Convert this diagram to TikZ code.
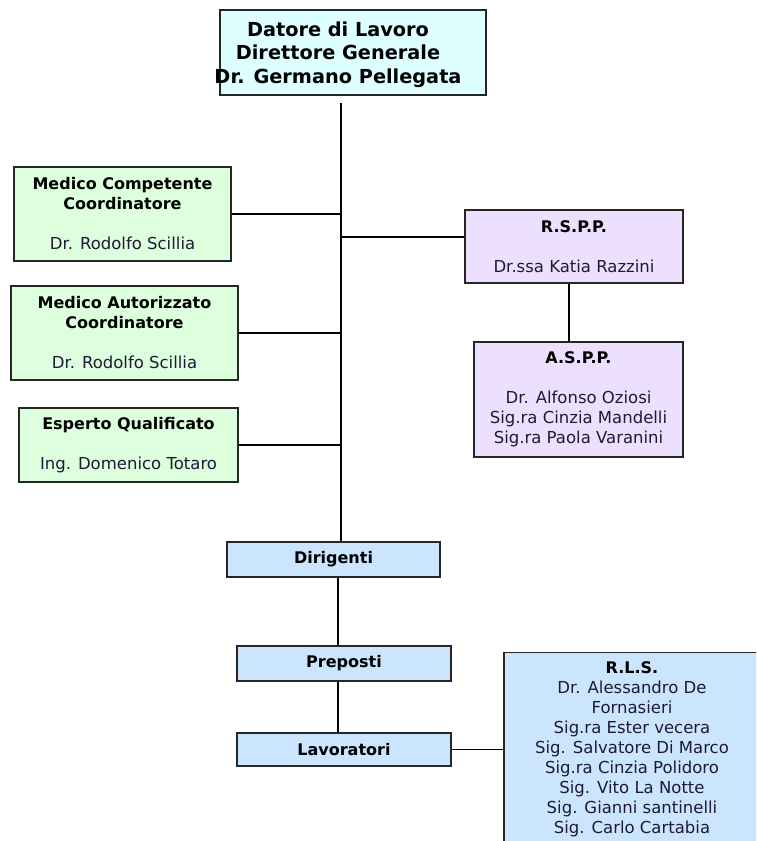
\documentclass[tikz,border=0pt]{standalone}
\usepackage{fontspec}
\setmainfont{DejaVu Sans}
\definecolor{cyanfill}{HTML}{DDFFFF}
\definecolor{greenfill}{HTML}{DDFFDD}
\definecolor{lilacfill}{HTML}{EDE0FF}
\definecolor{bluefill}{HTML}{CCE5FF}
\definecolor{boxline}{HTML}{262626}
\definecolor{txt}{HTML}{1E1A36}
\newcommand\hd[1]{{\bfseries\color{black}\fontsize{16}{20}\selectfont#1}}
\begin{document}
\begin{tikzpicture}[x=1pt,y=-1pt,
  box/.style={draw=boxline, line width=1.4pt, inner sep=0pt, align=center,
    text=txt, font=\fontsize{16.5}{20}\selectfont},
  conn/.style={draw=black, line width=1.3pt}]
\useasboundingbox (0,0) rectangle (756,841);
\clip (0,0) rectangle (756,841);
\fill[white] (0,0) rectangle (756,841);

\node[box, fill=cyanfill, minimum width=266pt, minimum height=85pt] (top) at (353,52.5) {};
\node[align=center, inner sep=0pt, font=\fontsize{19.3}{23.5}\selectfont\bfseries] (toptxt) at (338,54.5)
  {Datore di Lavoro\\Direttore Generale\\Dr. Germano Pellegata};

\node[box, fill=greenfill, minimum width=217pt, minimum height=94pt] (g1) at (122.5,214)
  {\hd{Medico Competente}\\\hd{Coordinatore}\\[20pt]Dr. Rodolfo Scillia};
\node[box, fill=greenfill, minimum width=227pt, minimum height=94pt] (g2) at (124.5,333)
  {\hd{Medico Autorizzato}\\\hd{Coordinatore}\\[20pt]Dr. Rodolfo Scillia};
\node[box, fill=greenfill, minimum width=219pt, minimum height=74pt] (g3) at (128.5,445)
  {\hd{Esperto Qualificato}\\[20pt]Ing. Domenico Totaro};

\node[box, fill=lilacfill, minimum width=218pt, minimum height=73pt] (rspp) at (574,246.5)
  {\hd{R.S.P.P.}\\[20pt]Dr.ssa Katia Razzini};
\node[box, fill=lilacfill, minimum width=209pt, minimum height=115pt] (aspp) at (578.5,399.5)
  {\hd{A.S.P.P.}\\[20pt]Dr. Alfonso Oziosi\\Sig.ra Cinzia Mandelli\\Sig.ra Paola Varanini};

\node[box, fill=bluefill, minimum width=213pt, minimum height=35pt] (dir) at (333.5,559.5)
  {\hd{Dirigenti}};
\node[box, fill=bluefill, minimum width=214pt, minimum height=35pt] (prep) at (344,663.5)
  {\hd{Preposti}};
\node[box, fill=bluefill, minimum width=214pt, minimum height=33pt] (lav) at (344,749.5)
  {\hd{Lavoratori}};
\node[box, fill=bluefill, minimum width=256pt, inner ysep=9pt, anchor=north] (rls) at (632,652)
  {\hd{R.L.S.}\\Dr. Alessandro De\\Fornasieri\\Sig.ra Ester vecera\\Sig. Salvatore Di Marco\\Sig.ra Cinzia Polidoro\\Sig. Vito La Notte\\Sig. Gianni santinelli\\Sig. Carlo Cartabia\\ };

\coordinate (j0) at (341,103);
\coordinate (rj) at (341,237);
\coordinate (v) at (338,600);
\coordinate (av) at (569,300);

\draw[conn] (j0) -- (dir.north -| j0);
\draw[conn] (g1.east) -- (g1.east -| j0);
\draw[conn] (g2.east) -- (g2.east -| j0);
\draw[conn] (g3.east) -- (g3.east -| j0);
\draw[conn] (rj) -- (rj -| rspp.west);
\draw[conn] (rspp.south -| av) -- (aspp.north -| av);
\draw[conn] (dir.south -| v) -- (prep.north -| v);
\draw[conn] (prep.south -| v) -- (lav.north -| v);
\draw[conn] (lav.east) -- (lav.east -| rls.west);
\end{tikzpicture}
\end{document}
